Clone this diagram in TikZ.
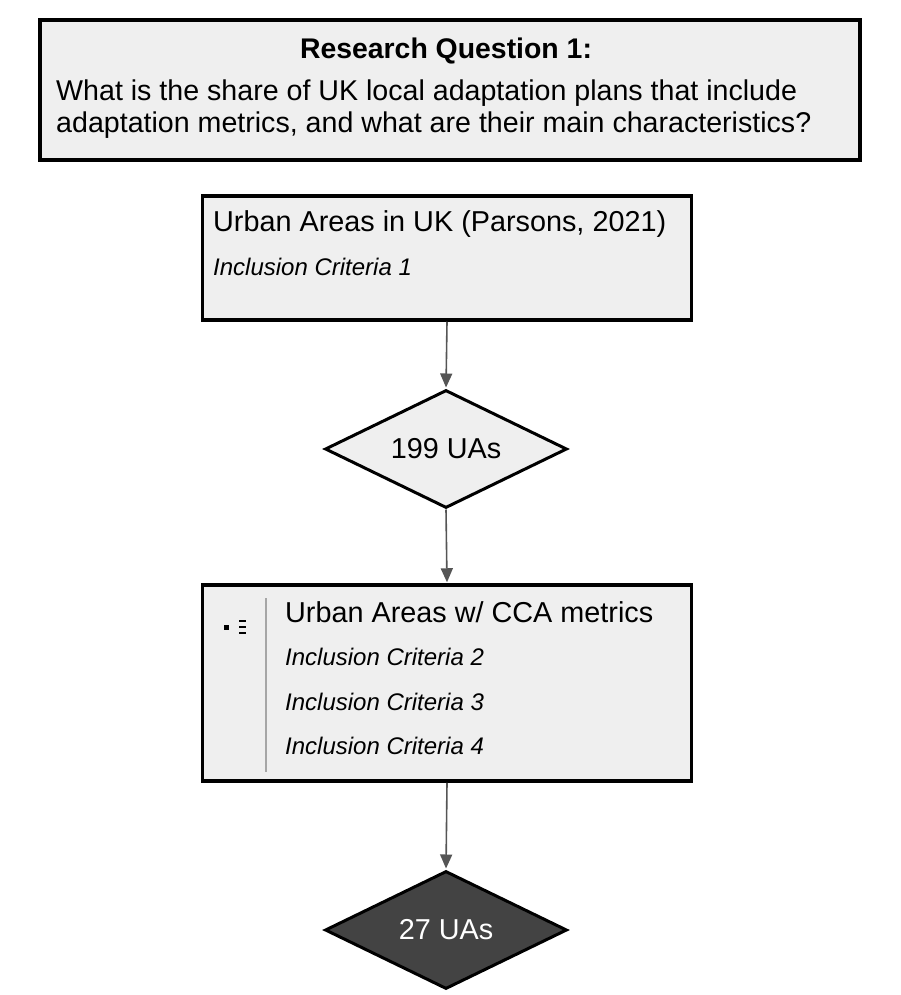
\documentclass[tikz,border=0pt]{standalone}
\usepackage{fontspec}
\setmainfont{Liberation Sans}
\usetikzlibrary{shapes.geometric,arrows.meta}
\definecolor{boxfill}{HTML}{EFEFEF}
\definecolor{darkfill}{HTML}{434343}
\definecolor{linegray}{HTML}{555555}
\begin{document}
\begin{tikzpicture}[x=1pt,y=-1pt,
  box/.style={draw=black,line width=3.5pt,fill=boxfill,inner sep=0pt},
  dia/.style={diamond,draw=black,line width=3pt,inner sep=0pt,minimum width=242pt,minimum height=118pt},
  flow/.style={draw=linegray,line width=1.6pt,-{Triangle[length=14pt,width=12pt]},shorten >=1pt},
  txt/.style={inner sep=0pt,anchor=west,font=\fontsize{28.8}{34}\selectfont},
  crit/.style={inner sep=0pt,anchor=west,font=\fontsize{24}{28}\selectfont\itshape}]
\useasboundingbox (0,0) rectangle (901,995);
% top box
\node[box,minimum width=820pt,minimum height=140pt] (rq) at (450,90) {};
\node[inner sep=0pt,font=\fontsize{28.4}{34}\selectfont\bfseries] (rqtitle) at (446,51) {Research Question 1:};
\node[txt,font=\fontsize{28.6}{34}\selectfont] (rql1) at (56,93) {What is the share of UK local adaptation plans that include};
\node[txt,font=\fontsize{28.6}{34}\selectfont] (rql2) at (56,125) {adaptation metrics, and what are their main characteristics?};
% box 2
\node[box,minimum width=489pt,minimum height=124pt] (b1) at (447,258) {};
\node[txt] (b1t) at (213,224) {Urban Areas in UK (Parsons, 2021)};
\node[crit] (b1c) at (213,267) {Inclusion Criteria 1};
% diamond 1
\node[dia,fill=boxfill] (d1) at (446,449) {};
\node[inner sep=0pt,font=\fontsize{28.8}{34}\selectfont] (d1t) at (d1.center) {199 UAs};
% box 3
\node[box,minimum width=489pt,minimum height=196pt] (b2) at (447,683) {};
\draw[draw=gray!70,line width=1.6pt] (266,598) -- (266,772);
\fill (224,625) rectangle (229,630);
\draw[line width=1.3pt] (239,621) -- (246,621) (239,627) -- (246,627) (239,633) -- (246,633);
\node[txt] (b2t) at (285,612) {Urban Areas w/ CCA metrics};
\node[crit] (b2c2) at (285,657) {Inclusion Criteria 2};
\node[crit] (b2c3) at (285,702) {Inclusion Criteria 3};
\node[crit] (b2c4) at (285,746) {Inclusion Criteria 4};
% diamond 2
\node[dia,fill=darkfill] (d2) at (446,930) {};
\node[inner sep=0pt,text=white,font=\fontsize{28.8}{34}\selectfont] (d2t) at (d2.center) {27 UAs};
% arrows
\draw[flow] (b1.south) -- (d1.north);
\draw[flow] (d1.south) -- (b2.north);
\draw[flow] (b2.south) -- (d2.north);
\end{tikzpicture}
\end{document}
